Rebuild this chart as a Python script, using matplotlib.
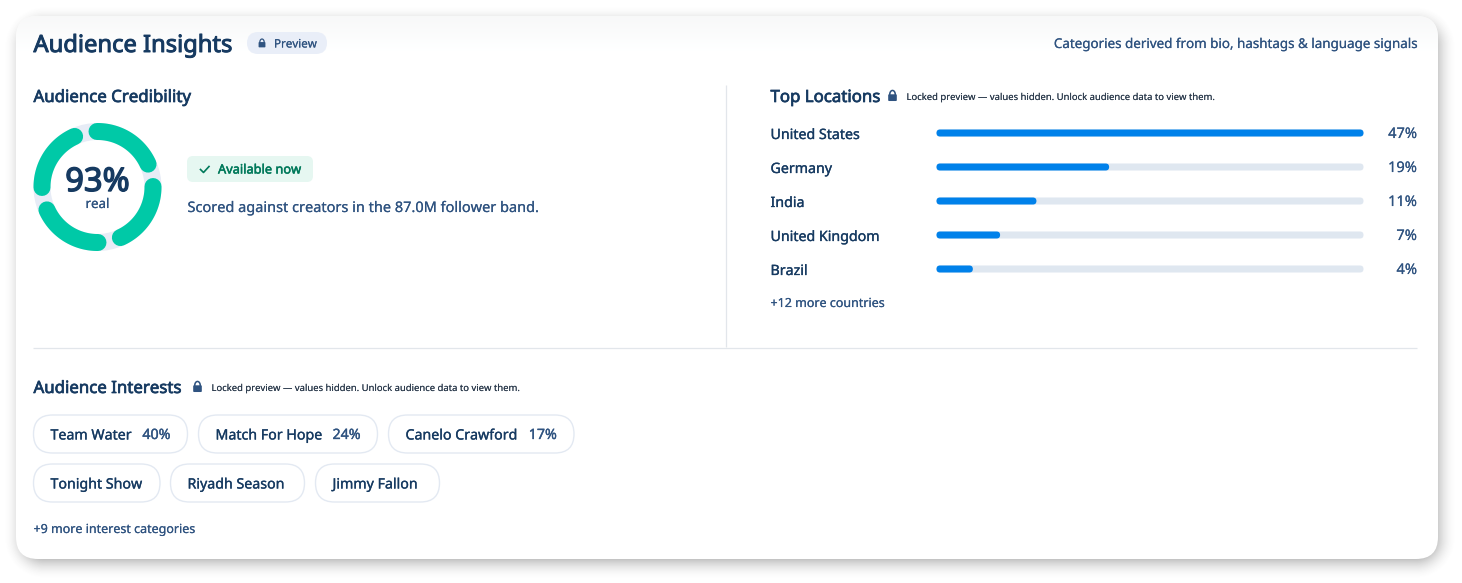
import matplotlib
matplotlib.use("Agg")
import matplotlib.pyplot as plt
import matplotlib.patheffects as pe
import numpy as np
from matplotlib.patches import FancyBboxPatch, Wedge

# chart values
countries = ["United States", "Germany", "India", "United Kingdom", "Brazil"]
country_pct = [47, 19, 11, 7, 4]
interests = ["Team Water", "Match For Hope", "Canelo Crawford", "Tonight Show", "Riyadh Season", "Jimmy Fallon"]
interest_pct = [40, 24, 17, None, None, None]
credibility = 93
ring_parts = 4

NAVY = "#163a61"
SLATE = "#2f5380"
FONT = "Noto Sans"
NOTE = "Locked preview \u2014 values hidden. Unlock audience data to view them."
CATEGORIES_NOTE = "Categories derived from bio, hashtags & language signals"

W, H = 1462, 583
fig = plt.figure(figsize=(W / 100, H / 100), dpi=100, facecolor="white")
ax = fig.add_axes([0, 0, 1, 1])
ax.set_xlim(0, W)
ax.set_ylim(H, 0)
ax.axis("off")


def rr_dist(xx, yy, x0, y0, x1, y1, r):
    # signed distance to a rounded rect
    cx, cy = (x0 + x1) / 2, (y0 + y1) / 2
    qx = np.abs(xx - cx) - (x1 - x0) / 2 + r
    qy = np.abs(yy - cy) - (y1 - y0) / 2 + r
    return np.hypot(np.maximum(qx, 0), np.maximum(qy, 0)) + np.minimum(np.maximum(qx, qy), 0) - r


def pill(x0, y0, x1, y1, r, fc, ec="none", lw=0, z=3):
    p = FancyBboxPatch((x0 + r, y0 + r), x1 - x0 - 2 * r, y1 - y0 - 2 * r,
                       boxstyle="round,pad=%f,rounding_size=%f" % (r, r),
                       fc=fc, ec=ec, lw=lw, zorder=z)
    ax.add_patch(p)
    return p


def fit(s, width):
    # point size that makes s about width pixels wide
    t = ax.text(0, 0, s, fontsize=10, family=FONT)
    w = t.get_window_extent(fig.canvas.get_renderer()).width
    t.remove()
    return 10 * width / w


def txt(x, y, s, size, color=NAVY, bold=0.1, ha="left"):
    # only the regular cut of the font is there, so weight comes from a thin stroke
    t = ax.text(x, y, s, fontsize=size, color=color, ha=ha, va="baseline", family=FONT, zorder=6)
    t.set_path_effects([pe.withStroke(linewidth=bold, foreground=color)])
    return t


def lock(cx, cy, color=SLATE, s=1.0):
    # small padlock, cy is the top of the body
    ax.add_patch(FancyBboxPatch((cx - 3.0 * s, cy - 0.4 * s), 6.0 * s, 4.4 * s,
                                boxstyle="round,pad=%f,rounding_size=%f" % (0.6 * s, 0.8 * s),
                                fc=color, ec="none", zorder=6))
    t = np.linspace(np.pi, 2 * np.pi, 20)
    ax.plot(cx + 2.3 * s * np.cos(t), cy - 0.8 * s + 3.4 * s * np.sin(t), color=color, lw=0.95 * s, zorder=6)


size_h2 = fit("Audience Credibility", 158)
size_body = fit("Scored against creators in the 87.0M follower band.", 351)
size_row = fit("United Kingdom", 109)
size_small = fit("+9 more interest categories", 162)
size_note = fit(NOTE, 308)

# card shadow
gy, gx = np.mgrid[0:H, 0:W]
d = rr_dist(gx + 0.5, gy + 0.5, 22, 24, 1438, 561, 22)
shadow = 0.42 * np.clip(1 - (d + 5) / 24, 0, 1) ** 2
rgba = np.zeros((H, W, 4))
rgba[..., :3] = 0.25
rgba[..., 3] = shadow
ax.imshow(rgba, extent=(0, W, H, 0), aspect="auto", zorder=1, interpolation="bilinear")

# card with light fade at the top
card = pill(16, 16, 1438, 559, 22, "white", z=2)
fade = np.linspace(0.972, 1, 36).reshape(-1, 1)
im = ax.imshow(np.dstack([fade, fade + 0.002, fade + 0.003]).clip(0, 1), extent=(16, 1438, 52, 16), aspect="auto", zorder=2.1)
im.set_clip_path(card)
ax.set_xlim(0, W)
ax.set_ylim(H, 0)

# header
txt(33.5, 52, "Audience Insights", fit("Audience Insights", 199), bold=0.7)
pill(247, 32, 327, 54, 11, "#e9eef8")
lock(262, 43, s=0.95)
txt(274, 47.5, "Preview", fit("Preview", 43), SLATE)
txt(1417, 48, CATEGORIES_NOTE, fit(CATEGORIES_NOTE, 364), SLATE, ha="right")

# dividers
ax.plot([726, 726], [85, 347], color="#e2e6eb", lw=0.9, zorder=3, solid_capstyle="butt")
ax.plot([33, 1417], [347.5, 347.5], color="#e2e6eb", lw=0.9, zorder=3, solid_capstyle="butt")

# credibility ring
txt(33.5, 102, "Audience Credibility", size_h2, bold=0.5)
rcx, rcy, ro, rw = 97.5, 187, 64, 17
ax.add_patch(Wedge((rcx, rcy), ro, 0, 360, width=rw, fc="#e7ecf6", ec="none", zorder=3))
rm = ro - rw / 2
cap = np.degrees((rw / 2) / rm)
for i in range(ring_parts):
    span = credibility / ring_parts * 3.6
    t = np.radians(np.linspace(i * 360 / ring_parts - 0.5, i * 360 / ring_parts - 0.5 + span - 2 * cap, 60))
    ax.plot(rcx + rm * np.sin(t), rcy - rm * np.cos(t), color="#00c9a7", lw=rw * 0.72,
            solid_capstyle="round", zorder=4)
txt(97.5, 191, "%d%%" % credibility, fit("93%", 64), NAVY, bold=1.0, ha="center")
txt(97.5, 208, "real", fit("real", 24), SLATE, ha="center")

pill(187, 156, 313, 182, 6, "#e6f7f1")
ax.plot([200.5, 203.5, 209], [169.5, 172.5, 166.5], color="#00795a", lw=1.2, zorder=6)
txt(218, 173.5, "Available now", fit("Available now", 83), "#00795a", bold=0.35)
txt(187.5, 212, "Scored against creators in the 87.0M follower band.", size_body, SLATE)

# locations
txt(770.5, 102, "Top Locations", size_h2, bold=0.5)
lock(892.5, 95.5, s=1.2)
txt(906.5, 100, NOTE, size_note, "#2b3a4c", bold=0)

bar_x0, bar_x1 = 936.5, 1363.5
bar_w = bar_x1 - bar_x0
bar_top = 133
for i, (name, v) in enumerate(zip(countries, country_pct)):
    y = bar_top + 34 * i
    txt(770.5, y + 6, name, size_row, NAVY, bold=0.2)
    pill(bar_x0, y - 3.5, bar_x1, y + 3.5, 3.5, "#dfe7f0")
    pill(bar_x0, y - 3.5, bar_x0 + bar_w * v / max(country_pct), y + 3.5, 3.5, "#0081ea", z=4)
    txt(1417, y + 5, "%d%%" % v, size_row * 1.03, SLATE, ha="right")
txt(770.5, 307, "+12 more countries", size_small, SLATE)

# interests
txt(33.5, 393, "Audience Interests", size_h2, bold=0.5)
lock(197.5, 386.5, s=1.2)
txt(211.5, 391, NOTE, size_note, "#2b3a4c", bold=0)

chip_x0 = [33.5, 198.5, 388.5, 33.5, 170.5, 315.5]
chip_x1 = [187.5, 377.5, 574, 160, 304.5, 439.5]
chip_y0 = [415, 415, 415, 464, 464, 464]
for name, p, x0, x1, y0 in zip(interests, interest_pct, chip_x0, chip_x1, chip_y0):
    pill(x0, y0, x1, y0 + 38, 19, "white", ec="#e3e9f2", lw=1.0)
    txt(x0 + 17, y0 + 24.5, name, size_row, NAVY, bold=0.2)
    if p is not None:
        txt(x1 - 17, y0 + 24, "%d%%" % p, size_row, SLATE, bold=0.25, ha="right")
txt(33.5, 533, "+9 more interest categories", size_small, SLATE)

fig.savefig("out.png", dpi=100, facecolor="white")
